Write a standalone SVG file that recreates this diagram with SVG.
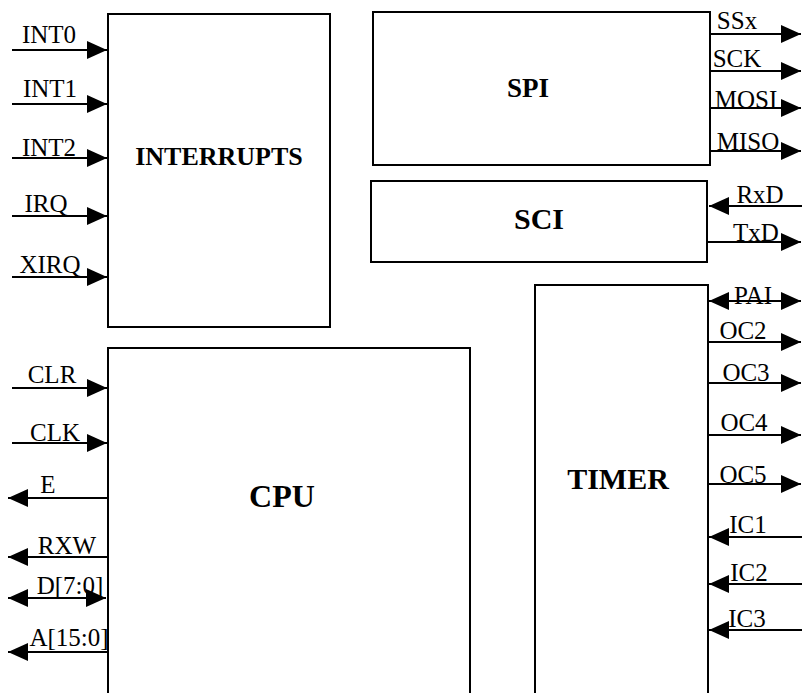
<svg xmlns="http://www.w3.org/2000/svg" width="802" height="693" viewBox="0 0 802 693">
<style>
.box{fill:#fff;stroke:#000;stroke-width:2}
.w{stroke:#000;stroke-width:2;fill:none}
.lbl{font-family:"Liberation Serif",serif;font-size:25px;fill:#000;text-anchor:middle}
.ttl{font-family:"Liberation Serif",serif;font-weight:bold;fill:#000;text-anchor:middle}
</style>
<defs>
<marker id="ah" viewBox="0 0 20 20" refX="20" refY="10" markerWidth="20" markerHeight="20" markerUnits="userSpaceOnUse" orient="auto-start-reverse">
<path d="M0,1 L20,10 L0,19 z" fill="#000"/>
</marker>
</defs>
<rect width="802" height="693" fill="#fff"/>
<g id="interrupts"><rect class="box" x="108" y="14" width="222" height="313"/><text class="ttl" x="219" y="165" font-size="26">INTERRUPTS</text></g>
<g id="spi"><rect class="box" x="373" y="12" width="337" height="153"/><text class="ttl" x="528" y="97" font-size="27">SPI</text></g>
<g id="sci"><rect class="box" x="371" y="181" width="336" height="81"/><text class="ttl" x="539" y="229" font-size="30">SCI</text></g>
<g id="cpu"><path class="box" d="M108,695 V348 H470 V695"/><text class="ttl" x="282" y="507" font-size="32">CPU</text></g>
<g id="timer"><path class="box" d="M535,695 V285 H708 V695"/><text class="ttl" x="618" y="489" font-size="30">TIMER</text></g>
<g id="connectors">
<path class="w" marker-end="url(#ah)" d="M12,50 H107"/>
<path class="w" marker-end="url(#ah)" d="M12,104 H107"/>
<path class="w" marker-end="url(#ah)" d="M12,158 H107"/>
<path class="w" marker-end="url(#ah)" d="M12,216 H107"/>
<path class="w" marker-end="url(#ah)" d="M12,277 H107"/>
<path class="w" marker-end="url(#ah)" d="M12,388 H107"/>
<path class="w" marker-end="url(#ah)" d="M12,443 H107"/>
<path class="w" marker-end="url(#ah)" d="M108,498 H8"/>
<path class="w" marker-end="url(#ah)" d="M108,557 H8"/>
<path class="w" marker-start="url(#ah)" marker-end="url(#ah)" d="M8,598 H106"/>
<path class="w" marker-end="url(#ah)" d="M108,652 H8"/>
<path class="w" marker-end="url(#ah)" d="M710,34 H801"/>
<path class="w" marker-end="url(#ah)" d="M710,71 H801"/>
<path class="w" marker-end="url(#ah)" d="M710,108 H801"/>
<path class="w" marker-end="url(#ah)" d="M710,151 H801"/>
<path class="w" marker-end="url(#ah)" d="M802,206 H709"/>
<path class="w" marker-end="url(#ah)" d="M707,242 H801"/>
<path class="w" marker-start="url(#ah)" marker-end="url(#ah)" d="M709,301 H801"/>
<path class="w" marker-end="url(#ah)" d="M708,342 H801"/>
<path class="w" marker-end="url(#ah)" d="M708,383 H801"/>
<path class="w" marker-end="url(#ah)" d="M708,435 H801"/>
<path class="w" marker-end="url(#ah)" d="M708,484 H801"/>
<path class="w" marker-end="url(#ah)" d="M802,537 H709"/>
<path class="w" marker-end="url(#ah)" d="M802,584 H709"/>
<path class="w" marker-end="url(#ah)" d="M802,630 H709"/>
</g>
<g id="labels">
<text class="lbl" x="49" y="43">INT0</text>
<text class="lbl" x="50" y="97">INT1</text>
<text class="lbl" x="49" y="156">INT2</text>
<text class="lbl" x="46" y="212">IRQ</text>
<text class="lbl" x="50" y="273">XIRQ</text>
<text class="lbl" x="52" y="383">CLR</text>
<text class="lbl" x="55" y="441">CLK</text>
<text class="lbl" x="48" y="493">E</text>
<text class="lbl" x="67" y="554">RXW</text>
<text class="lbl" x="70" y="594">D[7:0]</text>
<text class="lbl" x="69" y="646">A[15:0]</text>
<text class="lbl" x="737" y="29">SSx</text>
<text class="lbl" x="737" y="67">SCK</text>
<text class="lbl" x="746" y="108">MOSI</text>
<text class="lbl" x="748" y="150">MISO</text>
<text class="lbl" x="760" y="203">RxD</text>
<text class="lbl" x="756" y="241">TxD</text>
<text class="lbl" x="753" y="304">PAI</text>
<text class="lbl" x="743" y="339">OC2</text>
<text class="lbl" x="746" y="381">OC3</text>
<text class="lbl" x="744" y="431">OC4</text>
<text class="lbl" x="743" y="483">OC5</text>
<text class="lbl" x="748" y="533">IC1</text>
<text class="lbl" x="749" y="581">IC2</text>
<text class="lbl" x="747" y="627">IC3</text>
</g>
</svg>
